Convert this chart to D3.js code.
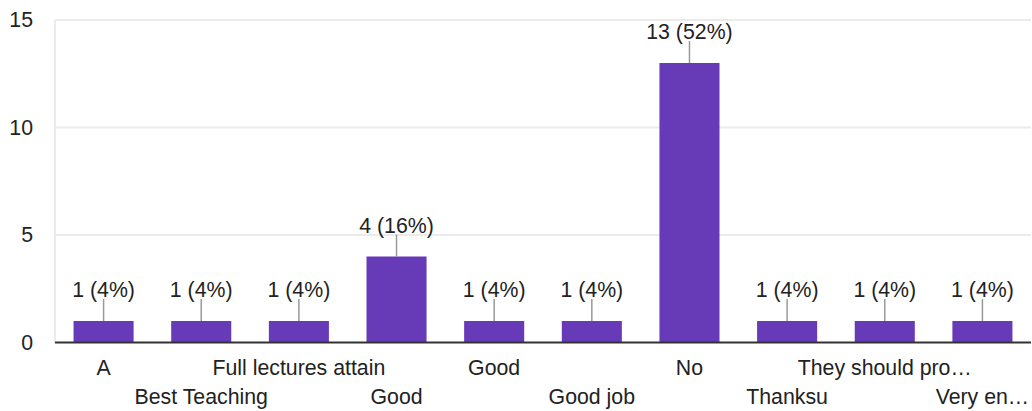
<!DOCTYPE html>
<html><head><meta charset="utf-8">
<script src="https://cdn.jsdelivr.net/npm/d3@7"></script>
<style>body{margin:0;background:#fff}text{font-family:Arial,"Liberation Sans",sans-serif}</style>
</head><body><svg id="c" width="1032" height="411"></svg>
<script>
const categories = ["A","Best Teaching","Full lectures attain","Good","Good","Good job","No","Thanksu","They should pro…","Very en…"];
const counts = [1,1,1,4,1,1,13,1,1,1];
const labels = ["1 (4%)","1 (4%)","1 (4%)","4 (16%)","1 (4%)","1 (4%)","13 (52%)","1 (4%)","1 (4%)","1 (4%)"];
const yTicks = [0,5,10,15];

(function(){
const FONT = "Arial,'Liberation Sans',sans-serif";
const FS = 21.3;
const svg = d3.select("#c");
const mLeft = 55, mRight = 1031, mTop = 20, mBottom = 342.5;
const x = d3.scaleBand().domain(d3.range(categories.length)).range([mLeft, mRight]).paddingInner(0.385).paddingOuter(0.19);
const y = d3.scaleLinear().domain([0,15]).range([mBottom, mTop]);

svg.append("g").selectAll("line").data(yTicks.filter(d=>d>0)).join("line")
  .attr("x1", mLeft).attr("x2", mRight).attr("y1", d=>y(d)).attr("y2", d=>y(d))
  .attr("stroke", "#ebebeb").attr("stroke-width", 2);
svg.append("line").attr("x1", mLeft).attr("x2", mLeft).attr("y1", mTop).attr("y2", mBottom)
  .attr("stroke", "#ebebeb").attr("stroke-width", 2);

const ya = svg.append("g").attr("transform", `translate(${mLeft},0)`)
  .call(d3.axisLeft(y).tickValues(yTicks).tickSize(0).tickPadding(22));
ya.select(".domain").remove();
ya.selectAll("text").attr("font-size", FS).attr("fill", "#222").attr("font-family", FONT);

svg.append("g").selectAll("rect").data(counts).join("rect")
  .attr("x", (d,i)=>x(i)).attr("width", x.bandwidth())
  .attr("y", d=>y(d)).attr("height", d=>mBottom - y(d))
  .attr("fill", "#673ab7");

svg.append("g").selectAll("line").data(counts).join("line")
  .attr("x1", (d,i)=>x(i)+x.bandwidth()/2).attr("x2", (d,i)=>x(i)+x.bandwidth()/2)
  .attr("y1", d=>y(d)).attr("y2", d=>y(d)-22)
  .attr("stroke", "#999").attr("stroke-width", 1.5);
svg.append("g").selectAll("text").data(counts).join("text")
  .attr("x", (d,i)=>x(i)+x.bandwidth()/2).attr("y", d=>y(d)-24)
  .attr("text-anchor", "middle").attr("font-size", FS).attr("fill", "#222")
  .text((d,i)=>labels[i]);

svg.append("line").attr("x1", mLeft).attr("x2", mRight).attr("y1", mBottom).attr("y2", mBottom)
  .attr("stroke", "#333").attr("stroke-width", 2);

svg.append("g").selectAll("text").data(categories).join("text")
  .attr("x", (d,i)=>x(i)+x.bandwidth()/2).attr("y", (d,i)=> i%2===0 ? 375 : 404)
  .attr("text-anchor", "middle").attr("font-size", FS).attr("fill", "#222")
  .text(d=>d);
})();
</script></body></html>
